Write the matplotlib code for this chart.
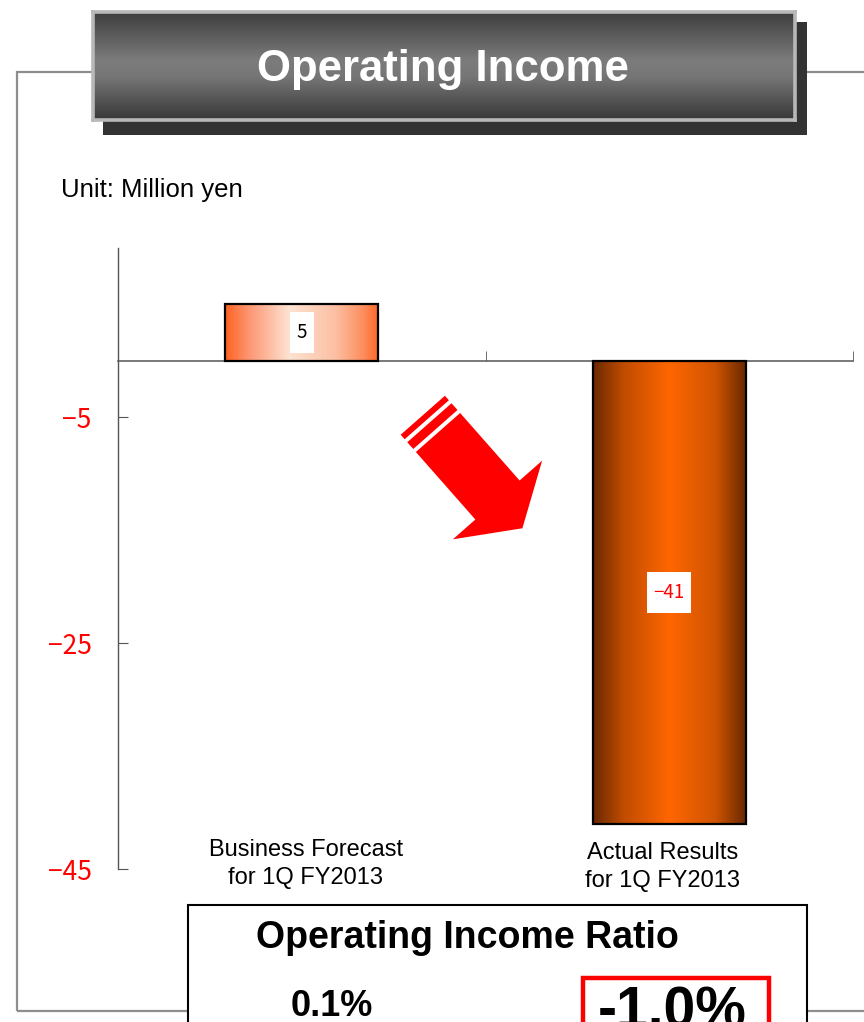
import numpy as np
import matplotlib
matplotlib.use("Agg")
import matplotlib.pyplot as plt
from matplotlib.patches import Rectangle, Polygon
from matplotlib.colors import LinearSegmentedColormap
from matplotlib.path import Path
from matplotlib import font_manager as fm, transforms

# ---- data ----
categories = ["Business Forecast\nfor 1Q FY2013", "Actual Results\nfor 1Q FY2013"]
operating_income = [5, -41]          # million yen
ratio_labels = ["0.1%", "-1.0%"]
y_ticks = [-45, -25, -5]
unit_label = "Unit: Million yen"
title = "Operating Income"
ratio_title = "Operating Income Ratio"

W, H = 864, 1022
fig = plt.figure(figsize=(W / 100, H / 100), dpi=100)
fig.patch.set_facecolor("white")

installed = {f.name for f in fm.fontManager.ttflist}
SANS = "Liberation Sans"
NARROW = "Liberation Sans Narrow" if "Liberation Sans Narrow" in installed else None
JP = ["Noto Sans CJK JP", "DejaVu Sans"]


def fx(px):
    return px / W


def fy(py):
    return 1 - py / H


def frect(x0, y0, x1, y1, **kw):
    """Rectangle given by top-left / bottom-right pixel corners, in figure coords."""
    return Rectangle((fx(x0), fy(y1)), fx(x1) - fx(x0), fy(y0) - fy(y1),
                     transform=fig.transFigure, **kw)


# ---- outer frame ----
fig.add_artist(frect(17, 72, 900, 1011, fill=False, edgecolor="#8e8e8e",
                     linewidth=1.6, zorder=0))

# ---- title banner ----
fig.add_artist(frect(103, 22, 807, 135, facecolor="#333333", edgecolor="none", zorder=1))
ax_t = fig.add_axes([fx(93), fy(120), fx(795) - fx(93), fy(12) - fy(120)], zorder=2)
banner_cmap = LinearSegmentedColormap.from_list(
    "banner", [(0, "#3e3e3e"), (0.45, "#7c7c7c"), (0.6, "#767676"), (1, "#383838")])
ax_t.imshow(np.linspace(0, 1, 200).reshape(-1, 1), cmap=banner_cmap, aspect="auto",
            extent=[0, 1, 0, 1], interpolation="bicubic")
ax_t.set_xticks([])
ax_t.set_yticks([])
for s in ax_t.spines.values():
    s.set_color("#b8b8b8")
    s.set_linewidth(2.6)
ax_t.text(0.499, 0.36, title, transform=ax_t.transAxes, ha="center", va="baseline",
          color="white", fontweight="bold",
          fontsize=36 if NARROW else 31.5, family=NARROW or SANS)

# ---- unit ----
fig.text(fx(61), fy(190), unit_label, ha="left", va="center", fontsize=18.5, family=SANS)

# ---- main chart ----
ax = fig.add_axes([fx(118), fy(869), fx(853) - fx(118), fy(248) - fy(869)], zorder=3)
ax.patch.set_alpha(0)
x = np.arange(len(categories))
bars = ax.bar(x, operating_income, width=0.416, facecolor="none", edgecolor="black",
              linewidth=1.6, zorder=3)

bar_cmaps = [
    LinearSegmentedColormap.from_list("forecast", [
        (0.0, "#ff6220"), (0.15, "#fc9470"), (0.42, "#fde3d2"),
        (0.72, "#fcc0a4"), (0.9, "#fd9060"), (1.0, "#ff6a2c")]),
    LinearSegmentedColormap.from_list("actual", [
        (0.0, "#6a2800"), (0.2, "#c04c00"), (0.5, "#ff6600"),
        (0.8, "#cf5400"), (1.0, "#6a2800")]),
]
grad = np.linspace(0, 1, 256).reshape(1, -1)
for bar, cmap in zip(bars, bar_cmaps):
    x0, w = bar.get_x(), bar.get_width()
    y0, h = bar.get_y(), bar.get_height()
    im = ax.imshow(grad, cmap=cmap, aspect="auto", interpolation="bicubic",
                   extent=[x0, x0 + w, min(y0, y0 + h), max(y0, y0 + h)], zorder=2)
    im.set_clip_path(bar)


def tall_box(x0, y0, width, height, mutation_size):
    padx = 0.35 * mutation_size
    pady = 0.55 * mutation_size
    return Path([(x0 - padx, y0 - pady), (x0 + width + padx, y0 - pady),
                 (x0 + width + padx, y0 + height + pady), (x0 - padx, y0 + height + pady),
                 (x0 - padx, y0 - pady)], closed=True)


for xi, v in zip(x, operating_income):
    ax.text(xi, v / 2, f"{v:d}".replace("-", "\u2212"), ha="center", va="center",
            fontsize=13.5, family=JP, color="red" if v < 0 else "black", zorder=5,
            bbox=dict(boxstyle=tall_box, facecolor="white", edgecolor="none"))

ax.set_xlim(-0.5, len(categories) - 0.5)
ax.set_ylim(-45, 10)

ax.spines["top"].set_visible(False)
ax.spines["right"].set_visible(False)
ax.spines["bottom"].set_position(("data", 0))
ax.spines["bottom"].set_color("#555555")
ax.spines["bottom"].set_linewidth(1.1)
ax.spines["left"].set_color("#555555")
ax.spines["left"].set_linewidth(1.0)

ax.set_xticks([])
ax.set_xticks(np.arange(len(categories) + 1) - 0.5, minor=True)
ax.tick_params(axis="x", which="minor", direction="in", length=7, color="#555555")

ax.set_yticks(y_ticks)
ax.set_yticklabels([f"{t:d}".replace("-", "\u2212") for t in y_ticks])
ax.tick_params(axis="y", direction="in", length=7.5, color="#555555",
               labelcolor="red", labelsize=19, pad=19)
for lbl in ax.get_yticklabels():
    lbl.set_fontfamily(JP)

# category captions under the bars
cap_trans = transforms.blended_transform_factory(ax.transData, fig.transFigure)
cap_y = [864, 867]
cap_dx = [4, -7]
for xi, label, py, dx in zip(x, categories, cap_y, cap_dx):
    ax.annotate(label, xy=(xi, fy(py)), xycoords=cap_trans, xytext=(dx, 0),
                textcoords="offset pixels", ha="center", va="center",
                fontsize=17, family=SANS, linespacing=1.32, annotation_clip=False)

# ---- trend arrow ----
u = np.array([0.661, 0.750])
v = np.array([0.750, -0.661])
c = np.array([438.0, 432.5])


def arrow_pts(local):
    pts = [c + s * u + t * v for s, t in local]
    return [(fx(px), fy(py)) for px, py in pts]


arrow_shape = [(0, 29.5), (90, 29.5), (90, 59.5), (127.7, 0), (90, -59.5),
               (90, -29.5), (0, -29.5)]
fig.add_artist(Polygon(arrow_pts(arrow_shape), closed=True, facecolor="red",
                       edgecolor="none", transform=fig.transFigure, zorder=4))
for s0, s1 in [(-13, -4), (-23, -17)]:
    stripe = [(s0, 29.5), (s1, 29.5), (s1, -29.5), (s0, -29.5)]
    fig.add_artist(Polygon(arrow_pts(stripe), closed=True, facecolor="red",
                           edgecolor="none", transform=fig.transFigure, zorder=4))

# ---- ratio panel ----
fig.add_artist(frect(188, 905, 807, 1060, facecolor="white", edgecolor="black",
                     linewidth=1.5, zorder=5))
fig.text(fx(467), fy(938), ratio_title, ha="center", va="center", fontsize=27,
         fontweight="bold", family=SANS, zorder=6)
fig.add_artist(frect(583, 978, 769, 1060, fill=False, edgecolor="red",
                     linewidth=3.2, zorder=6))
fig.text(fx(332), fy(1016), ratio_labels[0], ha="center", va="baseline", fontsize=26,
         fontweight="bold", family=SANS, zorder=7)
fig.text(fx(672), fy(1027), ratio_labels[1], ha="center", va="baseline", fontsize=41,
         fontweight="bold", family=SANS, zorder=7)

fig.savefig("out.png", dpi=100)
